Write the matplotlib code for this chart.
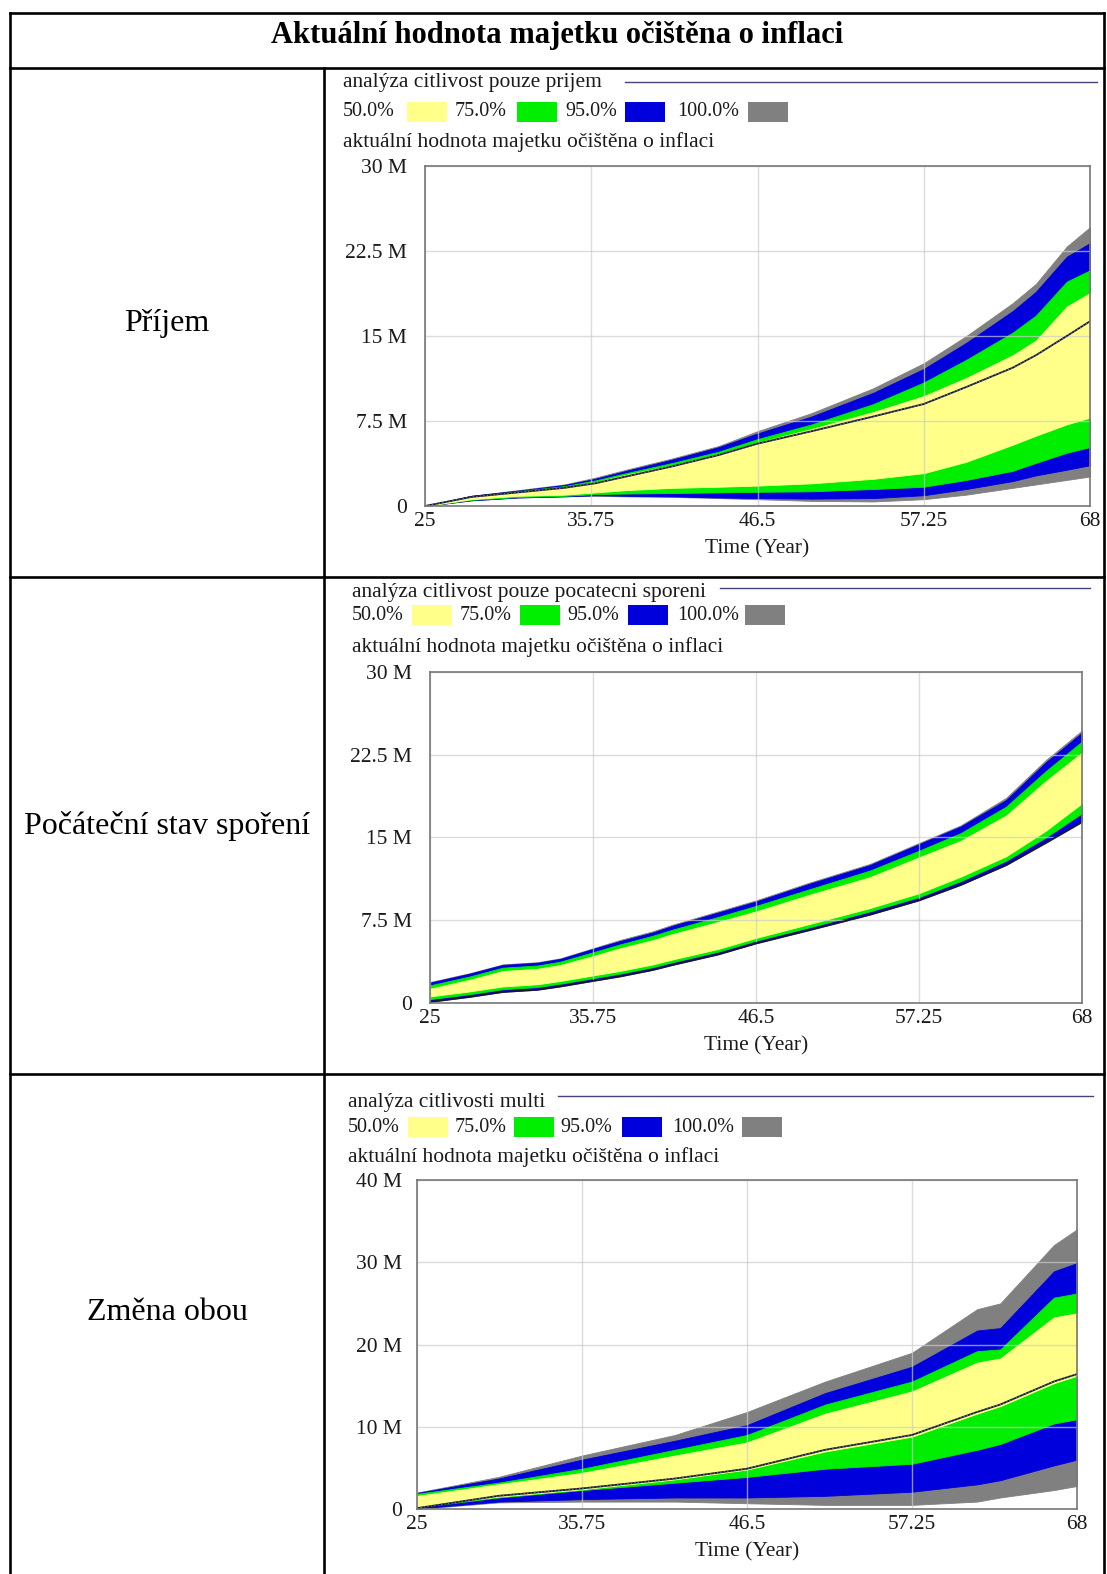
import matplotlib
matplotlib.use("Agg")
import matplotlib.pyplot as plt
from matplotlib.lines import Line2D
from matplotlib.patches import Rectangle

# ---------------- data ----------------
header_title = "Aktuální hodnota majetku očištěna o inflaci"
row_labels = ["Příjem", "Počáteční stav spoření", "Změna obou"]
chart_titles = ["analýza citlivost pouze prijem",
                "analýza citlivost pouze pocatecni sporeni",
                "analýza citlivosti multi"]
variable_name = "aktuální hodnota majetku očištěna o inflaci"
legend_labels = ["50.0%", "75.0%", "95.0%", "100.0%"]
x_ticks = [25, 35.75, 46.5, 57.25, 68]
x_tick_labels = ["25", "35.75", "46.5", "57.25", "68"]
x_label = "Time (Year)"
y_ticks_30 = [0, 7.5, 15, 22.5, 30]
y_tick_labels_30 = ["0", "7.5 M", "15 M", "22.5 M", "30 M"]
y_ticks_40 = [0, 10, 20, 30, 40]
y_tick_labels_40 = ["0", "10 M", "20 M", "30 M", "40 M"]

# Row 1 : Příjem (values in millions)
t1 = [25, 28, 31, 34, 36, 38, 41, 44, 46.5, 50, 54, 57.25, 60, 63, 64.5, 66.5, 68]
r1_base = [0, 0.8, 1.2, 1.6, 2.0, 2.6, 3.5, 4.5, 5.5, 6.6, 7.9, 9.0, 10.5, 12.2, 13.3, 15.0, 16.3]
r1_p100_hi = [0, 0.9, 1.4, 1.9, 2.5, 3.2, 4.2, 5.3, 6.6, 8.2, 10.4, 12.6, 15.0, 17.9, 19.6, 22.9, 24.6]
r1_p95_hi = [0, 0.9, 1.35, 1.85, 2.4, 3.1, 4.1, 5.2, 6.4, 7.9, 10.0, 12.1, 14.4, 17.2, 18.9, 22.0, 23.2]
r1_p75_hi = [0, 0.85, 1.3, 1.75, 2.25, 2.9, 3.8, 4.8, 5.9, 7.2, 9.0, 10.9, 12.9, 15.3, 16.8, 19.8, 20.8]
r1_p50_hi = [0, 0.82, 1.25, 1.65, 2.1, 2.75, 3.6, 4.6, 5.6, 6.8, 8.3, 9.7, 11.3, 13.3, 14.6, 17.6, 18.8]
r1_p50_lo = [0, 0.6, 0.9, 1.0, 1.2, 1.4, 1.6, 1.7, 1.8, 2.0, 2.4, 2.9, 3.9, 5.4, 6.2, 7.2, 7.8]
r1_p75_lo = [0, 0.55, 0.8, 0.9, 1.05, 1.1, 1.15, 1.2, 1.25, 1.3, 1.5, 1.7, 2.3, 3.1, 3.8, 4.7, 5.2]
r1_p95_lo = [0, 0.5, 0.75, 0.85, 0.95, 0.9, 0.85, 0.75, 0.7, 0.65, 0.7, 0.95, 1.5, 2.2, 2.7, 3.2, 3.6]
r1_p100_lo = [0, 0.5, 0.75, 0.85, 0.9, 0.85, 0.8, 0.7, 0.6, 0.45, 0.4, 0.6, 1.0, 1.6, 1.9, 2.3, 2.6]

# Row 2 : Počáteční stav spoření
t2 = [25, 27.6, 29.8, 32.1, 33.6, 35.75, 37.5, 39.7, 41, 44, 46.5, 50, 54, 57.25, 60, 63, 65.6, 68]
r2_p100_hi = [1.9, 2.7, 3.5, 3.7, 4.05, 4.96, 5.7, 6.5, 7.1, 8.3, 9.3, 10.9, 12.6, 14.5, 16.1, 18.6, 22.0, 24.7]
r2_p95_hi = [1.85, 2.65, 3.45, 3.65, 4.0, 4.9, 5.6, 6.4, 7.0, 8.2, 9.2, 10.8, 12.5, 14.4, 16.0, 18.4, 21.8, 24.5]
r2_p75_hi = [1.6, 2.4, 3.2, 3.4, 3.75, 4.6, 5.3, 6.1, 6.65, 7.8, 8.8, 10.3, 12.0, 13.8, 15.4, 17.8, 21.0, 23.7]
r2_p50_hi = [1.3, 2.1, 2.9, 3.1, 3.45, 4.25, 4.95, 5.7, 6.25, 7.35, 8.3, 9.8, 11.4, 13.2, 14.7, 17.0, 20.1, 22.7]
r2_p50_lo = [0.6, 1.05, 1.5, 1.7, 2.0, 2.5, 2.9, 3.5, 3.95, 4.9, 5.9, 7.15, 8.6, 9.95, 11.45, 13.3, 15.6, 18.1]
r2_p75_lo = [0.35, 0.8, 1.25, 1.45, 1.75, 2.25, 2.65, 3.25, 3.7, 4.65, 5.65, 6.85, 8.3, 9.6, 11.05, 12.9, 15.0, 17.2]
r2_p95_lo = [0.15, 0.6, 1.05, 1.25, 1.55, 2.05, 2.45, 3.05, 3.5, 4.45, 5.45, 6.65, 8.05, 9.35, 10.75, 12.55, 14.6, 16.5]
r2_p100_lo = [0.1, 0.55, 1.0, 1.2, 1.5, 2.0, 2.4, 3.0, 3.45, 4.4, 5.4, 6.6, 8.0, 9.3, 10.7, 12.5, 14.5, 16.4]

# Row 3 : Změna obou
t3 = [25, 30.3, 35.75, 41.8, 46.5, 51.6, 57.25, 61.5, 63, 66.5, 68]
r3_base = [0.1, 1.6, 2.5, 3.7, 4.9, 7.2, 9.0, 11.8, 12.7, 15.5, 16.4]
r3_p100_hi = [2.0, 3.9, 6.5, 9.0, 11.8, 15.5, 19.0, 24.3, 25.0, 32.1, 34.0]
r3_p95_hi = [1.95, 3.7, 6.0, 8.3, 10.2, 14.1, 17.3, 21.7, 22.0, 28.9, 29.9]
r3_p75_hi = [1.85, 3.2, 4.9, 7.2, 9.0, 12.7, 15.5, 19.2, 19.4, 25.7, 26.2]
r3_p50_hi = [1.6, 3.0, 4.4, 6.5, 8.1, 11.6, 14.3, 17.8, 18.3, 23.3, 23.8]
r3_p50_lo = [0.3, 1.5, 2.4, 3.6, 4.8, 7.0, 8.8, 11.6, 12.5, 15.3, 16.2]
r3_p75_lo = [0.2, 1.4, 2.3, 3.2, 3.9, 4.9, 5.5, 7.2, 7.9, 10.4, 10.9]
r3_p95_lo = [0.05, 0.9, 1.2, 1.4, 1.4, 1.6, 2.1, 3.0, 3.5, 5.3, 6.0]
r3_p100_lo = [0.0, 0.8, 0.9, 0.9, 0.7, 0.5, 0.5, 0.9, 1.4, 2.3, 2.8]

# ---------------- style ----------------
W, H = 1107, 1574
SERIF = ["Liberation Serif", "DejaVu Serif"]
C_YELLOW = "#ffff8a"
C_GREEN = "#00ee00"
C_BLUE = "#0000dd"
C_GRAY = "#808080"
BAND_COLORS = [C_YELLOW, C_GREEN, C_BLUE, C_GRAY]
FS_CHART = 15.5
FS_LEG = 14.5
FS_HEAD = 22
FS_ROW = 23

fig = plt.figure(figsize=(W / 100, H / 100), dpi=100)
fig.patch.set_facecolor("white")


def fx(x):
    return x / W


def fy(y):
    return 1 - y / H


def fline(xs, ys, **kw):
    fig.add_artist(Line2D([fx(v) for v in xs], [fy(v) for v in ys],
                          transform=fig.transFigure, **kw))


def ftext(x, y, s, **kw):
    kw.setdefault("family", SERIF)
    fig.text(fx(x), fy(y), s, transform=fig.transFigure, **kw)


# ---------------- table ----------------
TL, TR, TT = 9.5, 1104, 12.5
TB = 1580
lw_tab = 1.9
fline([TL, TR], [TT, TT], color="black", lw=lw_tab)
for yy in [68, 577, 1074]:
    fline([TL, TR], [yy, yy], color="black", lw=lw_tab)
fline([TL, TL], [TT, TB], color="black", lw=lw_tab)
fline([TR, TR], [TT, TB], color="black", lw=lw_tab)
fline([324, 324], [68, TB], color="black", lw=lw_tab)

ftext((TL + TR) / 2, 43, header_title, ha="center", va="baseline",
      fontsize=FS_HEAD, fontweight="bold")

for lab, yc in zip(row_labels, [323, 826, 1312]):
    ftext(167, yc, lab, ha="center", va="center", fontsize=FS_ROW)

# ---------------- charts ----------------
charts = [
    dict(box=(425, 166, 1090, 506), t=t1,
         bands=[(r1_p100_lo, r1_p100_hi), (r1_p95_lo, r1_p95_hi),
                (r1_p75_lo, r1_p75_hi), (r1_p50_lo, r1_p50_hi)],
         base=r1_base, ymax=30, yt=y_ticks_30, ytl=y_tick_labels_30,
         title_y=83, title_x=343, line_x=(625, 1097), line_y=82,
         leg_y=112, leg_text_x=[343, 455, 565, 677],
         leg_sw_x=[407, 517, 625, 748], var_y=142, ypad=13),
    dict(box=(430, 672, 1082, 1003), t=t2,
         bands=[(r2_p100_lo, r2_p100_hi), (r2_p95_lo, r2_p95_hi),
                (r2_p75_lo, r2_p75_hi), (r2_p50_lo, r2_p50_hi)],
         base=r2_p100_lo, ymax=30, yt=y_ticks_30, ytl=y_tick_labels_30,
         title_y=592, title_x=352, line_x=(720, 1090), line_y=588,
         leg_y=615, leg_text_x=[352, 460, 567, 677],
         leg_sw_x=[412, 520, 628, 745], var_y=647, ypad=13),
    dict(box=(417, 1180, 1077, 1509), t=t3,
         bands=[(r3_p100_lo, r3_p100_hi), (r3_p95_lo, r3_p95_hi),
                (r3_p75_lo, r3_p75_hi), (r3_p50_lo, r3_p50_hi)],
         base=r3_base, ymax=40, yt=y_ticks_40, ytl=y_tick_labels_40,
         title_y=1102, title_x=348, line_x=(558, 1093), line_y=1096,
         leg_y=1127, leg_text_x=[348, 455, 560, 672],
         leg_sw_x=[408, 514, 622, 742], var_y=1157, ypad=11),
]

band_fill_order = [C_GRAY, C_BLUE, C_GREEN, C_YELLOW]

for i, ch in enumerate(charts):
    l, tp, r, b = ch["box"]
    ax = fig.add_axes([fx(l), fy(b), (r - l) / W, (b - tp) / H])
    ax.set_facecolor("white")
    ax.set_xlim(25, 68)
    ax.set_ylim(0, ch["ymax"])
    for (lo, hi), col in zip(ch["bands"], band_fill_order):
        ax.fill_between(ch["t"], lo, hi, color=col, lw=0.6, edgecolor=col, zorder=1)
    ax.plot(ch["t"], ch["base"], color="#151535", lw=1.3, zorder=3)
    if i != 1:
        ax.plot(ch["t"], ch["base"], color="white", lw=0.5, alpha=0.55,
                linestyle=(0, (2, 3)), zorder=4)
    ax.set_xticks(x_ticks)
    ax.set_xticklabels(x_tick_labels)
    ax.set_yticks(ch["yt"])
    ax.set_yticklabels(ch["ytl"])
    ax.set_axisbelow(False)
    ax.grid(True, color="#cccccc", lw=1.0, alpha=0.7)
    ax.tick_params(axis="both", length=0, labelsize=FS_CHART, colors="#1a1a1a")
    ax.tick_params(axis="x", pad=4)
    ax.tick_params(axis="y", pad=ch["ypad"])
    for lab in ax.get_xticklabels() + ax.get_yticklabels():
        lab.set_family(SERIF)
    for s in ax.spines.values():
        s.set_color("#777777")
        s.set_linewidth(1.2)
        s.set_zorder(5)

    # header texts of the chart
    ftext(ch["title_x"], ch["title_y"], chart_titles[i], ha="left", va="center",
          fontsize=FS_CHART, color="#1a1a1a")
    fline(list(ch["line_x"]), [ch["line_y"], ch["line_y"]], color="#45457a", lw=1.0)
    for lab, tx, sx, col in zip(legend_labels, ch["leg_text_x"], ch["leg_sw_x"], BAND_COLORS):
        ftext(tx, ch["leg_y"], lab, ha="left", va="center", fontsize=FS_LEG,
              color="#1a1a1a")
        fig.add_artist(Rectangle((fx(sx), fy(ch["leg_y"] + 10)), 40 / W, 20 / H,
                                 transform=fig.transFigure, facecolor=col,
                                 edgecolor="none"))
    ftext(ch["title_x"], ch["var_y"], variable_name, ha="left", va="center",
          fontsize=FS_CHART, color="#1a1a1a")
    ftext((l + r) / 2, b + 43, x_label, ha="center", va="center",
          fontsize=FS_CHART, color="#1a1a1a")

fig.savefig("out.png", dpi=100, facecolor="white")
